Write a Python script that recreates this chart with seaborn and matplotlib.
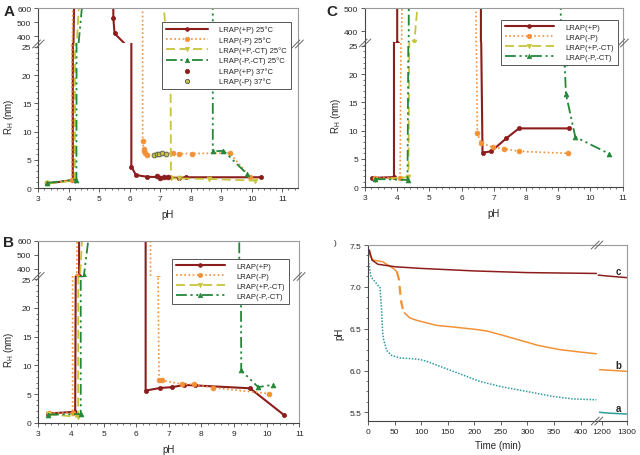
import matplotlib
matplotlib.use("Agg")
import matplotlib.pyplot as plt
import seaborn as sns
from matplotlib.lines import Line2D
from matplotlib.ticker import AutoMinorLocator, FormatStrFormatter

W, H = 640, 456

# ── Data ──────────────────────────────────────────────────────────
# Panel A  (values above the break are drawn off-scale and clipped)
A_plus_ph = [3.3, 4.13, 4.15, 4.2, 5.45, 5.46, 5.5, 6.05, 6.05, 6.2, 6.55, 7.6, 7.85, 10.3]
A_plus_rh = [0.8, 1.4, 300, 1000, 1000, 530, 420, 300, 3.8, 2.3, 2.0, 1.8, 1.9, 1.9]
A_minus_ph = [3.3, 4.1, 4.15, 6.42, 6.42, 6.45, 6.47, 6.5, 6.55, 7.42, 7.6, 8.05, 9.28, 9.93]
A_minus_rh = [0.8, 1.4, 1000, 1000, 8.4, 7.0, 6.6, 6.2, 5.9, 6.2, 6.1, 6.1, 6.2, 2.0]
A_plusct_ph = [3.3, 4.2, 4.25, 4.35, 7.08, 7.33, 7.35, 7.6, 8.6, 10.1]
A_plusct_rh = [0.8, 1.3, 300, 700, 700, 26, 1.7, 1.7, 1.6, 1.3]
A_minusct_ph = [3.3, 4.25, 4.3, 4.47, 8.72, 8.72, 8.72, 9.07, 9.84]
A_minusct_rh = [0.9, 1.5, 300, 700, 700, 300, 6.5, 6.6, 2.5]
A_plus37_ph = [6.88, 7.0, 7.12, 7.25]
A_plus37_rh = [2.1, 1.8, 1.9, 2.0]
A_minus37_ph = [6.78, 6.88, 6.95, 7.05, 7.17]
A_minus37_rh = [5.8, 6.0, 6.1, 6.2, 6.0]

# Panel B
B_plus_ph = [3.3, 4.13, 4.15, 4.25, 4.25, 6.29, 6.29, 6.73, 7.1, 7.47, 7.8, 9.49, 10.54]
B_plus_rh = [1.6, 1.9, 30, 350, 1000, 1000, 5.6, 6.05, 6.2, 6.57, 6.5, 6.0, 1.3]
B_minus_ph = [3.34, 4.05, 4.05, 4.18, 4.2, 6.44, 6.44, 6.67, 6.7, 6.78, 7.41, 7.78, 8.36, 10.08]
B_minus_rh = [1.7, 1.7, 30, 350, 1000, 1000, 300, 26, 7.4, 7.4, 6.7, 6.7, 6.1, 5.06]
B_plusct_ph = [3.3, 4.22, 4.27, 4.35]
B_plusct_rh = [1.5, 1.0, 300, 650]
B_minusct_ph = [3.3, 4.3, 4.3, 4.4, 4.55, 9.16, 9.16, 9.21, 9.22, 9.74, 10.18]
B_minusct_rh = [1.4, 1.5, 26, 355, 640, 1000, 355, 26, 9.1, 6.2, 6.6]

# Panel C
C_plus_ph = [3.21, 3.9, 3.9, 4.0, 4.0, 6.6, 6.6, 6.65, 6.92, 7.39, 7.78, 9.32]
C_plus_rh = [1.65, 1.8, 30, 350, 1000, 1000, 30, 6.1, 6.35, 8.65, 10.4, 10.4]
C_minus_ph = [3.3, 4.09, 4.12, 4.17, 6.45, 6.45, 6.49, 6.59, 6.96, 7.33, 7.78, 9.29]
C_minus_rh = [1.6, 1.7, 30, 1000, 1000, 30, 9.6, 7.9, 7.06, 6.8, 6.35, 6.0]
C_plusct_ph = [3.31, 4.35, 4.38, 4.53, 4.7]
C_plusct_rh = [1.35, 1.8, 30, 352, 620]
C_minusct_ph = [3.3, 4.32, 4.35, 4.37, 9.08, 9.08, 9.2, 9.24, 9.53, 10.59]
C_minusct_rh = [1.47, 1.3, 30, 1000, 1000, 400, 22, 16.5, 8.9, 5.9]

# Panel D  (pH vs time, x axis broken between ~430 and 1180 min)
a_time = [0, 3, 5, 10, 18, 22, 25, 27, 28.4, 34.6, 44, 60, 85, 98, 110, 135, 160, 185, 210,
          248, 298, 348, 385, 430]
a_ph = [7.32, 7.2, 7.12, 7.08, 7.02, 7.0, 6.72, 6.46, 6.38, 6.24, 6.18, 6.15, 6.14, 6.13, 6.11,
        6.05, 5.99, 5.93, 5.87, 5.81, 5.75, 5.69, 5.66, 5.65]
a_time_late = [1190, 1230, 1300]
a_ph_late = [5.50, 5.49, 5.48]
b_time = [0, 9, 27, 37, 47, 54, 58, 59, 62, 65, 68, 78, 91, 128, 160, 204, 225, 265, 320,
          360, 400, 430]
b_ph = [7.40, 7.32, 7.30, 7.26, 7.22, 7.18, 7.08, 7.0, 6.82, 6.74, 6.69, 6.63, 6.60, 6.54,
        6.52, 6.49, 6.47, 6.40, 6.30, 6.25, 6.22, 6.20]
b_time_late = [1190, 1300]
b_ph_late = [6.01, 5.99]
c_time = [0, 2, 7, 18, 50, 100, 200, 300, 430]
c_ph = [7.38, 7.44, 7.32, 7.27, 7.24, 7.22, 7.19, 7.17, 7.16]
c_time_late = [1185, 1220, 1300]
c_ph_late = [7.14, 7.13, 7.11]

# ── Styles ────────────────────────────────────────────────────────
RED, ORANGE, OLIVE, GREEN, TEAL = "#8c1d1d", "#f39137", "#c8c43c", "#23873a", "#2f9c9c"
STYLES = {
    "plus": dict(color=RED, linestyle="-", linewidth=1.5, marker="o", markersize=3),
    "minus": dict(color=ORANGE, linestyle=(0, (1, 1.5)), linewidth=1.2, marker="o", markersize=3.5),
    "plusct": dict(color=OLIVE, linestyle=(0, (5, 2.5)), linewidth=1.3, marker="v", markersize=3.5),
    "minusct": dict(color=GREEN, linestyle=(0, (6, 2, 1.2, 2, 1.2, 2)), linewidth=1.3,
                    marker="^", markersize=3.5),
}

sns.set_style("ticks")
plt.rcParams["font.family"] = ["Liberation Sans", "DejaVu Sans"]
plt.rcParams["axes.linewidth"] = 0.8


def px_rect(left, top, right, bottom):
    return [left / W, 1 - bottom / H, (right - left) / W, (bottom - top) / H]


def style_axes(ax):
    for side in ["left", "bottom"]:
        ax.spines[side].set_color("#444444")
    for side in ["top", "right"]:
        ax.spines[side].set_color("#9a9a9a")
    ax.tick_params(labelsize=6, length=3, width=0.6, color="#444444", pad=2)
    ax.tick_params(which="minor", length=1.5, width=0.5, color="#444444")
    ax.set_facecolor("none")


def break_mark(fig, x, y):
    for dx in (-1.8, 1.8):
        fig.add_artist(Line2D([(x + dx - 4) / W, (x + dx + 4) / W],
                              [1 - (y + 4) / H, 1 - (y - 4) / H],
                              color="#666666", linewidth=0.7))


def plot_series(ax, x, y, key, label=None):
    st = STYLES[key]
    sns.lineplot(x=x, y=y, ax=ax, sort=False, estimator=None, legend=False,
                 markeredgecolor=st["color"], markeredgewidth=0.5, label=label, **st)


def broken_panel(fig, left, top, brk, right, bottom, xlim, top_lim, top_ticks, bot_lim, series):
    ax_t = fig.add_axes(px_rect(left, top, right, brk))
    ax_b = fig.add_axes(px_rect(left, brk, right, bottom))
    for ax in (ax_t, ax_b):
        style_axes(ax)
        for x, y, key, label in series:
            plot_series(ax, x, y, key, label if ax is ax_b else None)
        ax.set_xlim(xlim)
        ax.set_xlabel("")
        ax.set_ylabel("")
    ax_t.set_ylim(top_lim)
    ax_t.set_yticks(top_ticks)
    ax_t.spines["bottom"].set_visible(False)
    ax_t.tick_params(axis="x", which="both", bottom=False, labelbottom=False)
    ax_b.spines["top"].set_visible(False)
    ax_b.set_ylim(bot_lim)
    ax_b.set_yticks([0, 5, 10, 15, 20, 25])
    ax_b.set_xticks(range(3, 12))
    ax_b.xaxis.set_minor_locator(AutoMinorLocator(5))
    ax_b.yaxis.set_minor_locator(AutoMinorLocator(5))
    ax_b.set_xlabel("pH", fontsize=7, labelpad=5)
    ax_b.set_ylabel("R$_\\mathregular{H}$ (nm)", fontsize=7, labelpad=4)
    break_mark(fig, left, brk + 1)
    break_mark(fig, right, brk + 1)
    return ax_t, ax_b


def panel_legend(fig, ax, x, y, handlelength):
    handles, labels = ax.get_legend_handles_labels()
    leg = fig.legend(handles, labels, loc="upper left", bbox_to_anchor=(x / W, 1 - y / H),
                     bbox_transform=fig.transFigure, fontsize=5.5, handlelength=handlelength,
                     handletextpad=1.5, labelspacing=0.35, borderpad=0.5, frameon=True,
                     fancybox=False, edgecolor="#555555", framealpha=1, markerscale=0.9)
    leg.get_frame().set_linewidth(0.7)
    return leg


fig = plt.figure(figsize=(6.4, 4.56), dpi=100)

# ── Panel A ───────────────────────────────────────────────────────
A_series = [
    (A_plus_ph, A_plus_rh, "plus", "LRAP(+P) 25°C"),
    (A_minus_ph, A_minus_rh, "minus", "LRAP(-P) 25°C"),
    (A_plusct_ph, A_plusct_rh, "plusct", "LRAP(+P,-CT) 25°C"),
    (A_minusct_ph, A_minusct_rh, "minusct", "LRAP(-P,-CT) 25°C"),
]
axA_t, axA_b = broken_panel(fig, 38.3, 9.3, 44, 297.6, 189, (3, 11.5), (352, 600),
                            [400, 500, 600], (0, 25.7), A_series)
sns.scatterplot(x=A_plus37_ph, y=A_plus37_rh, ax=axA_b, color=RED, s=12, edgecolor=RED,
                linewidth=0.5, legend=False, label="LRAP(+P) 37°C", zorder=3)
sns.scatterplot(x=A_minus37_ph, y=A_minus37_rh, ax=axA_b, color=OLIVE, s=12, edgecolor="#555555",
                linewidth=0.6, legend=False, label="LRAP(-P) 37°C", zorder=3)
axA_b.set_xlabel("pH", fontsize=7, labelpad=5)
axA_b.set_ylabel("R$_\\mathregular{H}$ (nm)", fontsize=7, labelpad=4)
panel_legend(fig, axA_b, 158, 19, 5.5)
fig.text(9 / W, 1 - 12 / H, "A", fontsize=11, fontweight="bold", ha="center", va="center")

# ── Panel B ───────────────────────────────────────────────────────
B_series = [
    (B_plus_ph, B_plus_rh, "plus", "LRAP(+P)"),
    (B_minus_ph, B_minus_rh, "minus", "LRAP(-P)"),
    (B_plusct_ph, B_plusct_rh, "plusct", "LRAP(+P,-CT)"),
    (B_minusct_ph, B_minusct_rh, "minusct", "LRAP(-P,-CT)"),
]
axB_t, axB_b = broken_panel(fig, 38.3, 242, 276.5, 299.3, 423.7, (3, 11), (353, 600),
                            [400, 500, 600], (0, 25.66), B_series)
panel_legend(fig, axB_b, 168, 256, 6.5)
fig.text(8 / W, 1 - 243 / H, "B", fontsize=11, fontweight="bold", ha="center", va="center")

# ── Panel C ───────────────────────────────────────────────────────
C_series = [
    (C_plus_ph, C_plus_rh, "plus", "LRAP(+P)"),
    (C_minus_ph, C_minus_rh, "minus", "LRAP(-P)"),
    (C_plusct_ph, C_plusct_rh, "plusct", "LRAP(+P,-CT)"),
    (C_minusct_ph, C_minusct_rh, "minusct", "LRAP(-P,-CT)"),
]
axC_t, axC_b = broken_panel(fig, 365, 9.3, 43, 622.6, 188.3, (3, 11), (353, 500),
                            [400, 500], (0, 25.65), C_series)
panel_legend(fig, axC_b, 497, 17, 6.5)
fig.text(332 / W, 1 - 12 / H, "C", fontsize=11, fontweight="bold", ha="center", va="center")

# ── Panel D ───────────────────────────────────────────────────────
axD_l = fig.add_axes(px_rect(368.3, 246, 597, 421.7))
axD_r = fig.add_axes(px_rect(597, 246, 626.7, 421.7))
for ax in (axD_l, axD_r):
    style_axes(ax)

i0 = next(i for i, t in enumerate(b_time) if t >= 54)
i1 = next(i for i, t in enumerate(b_time) if t >= 68)
line_kw = dict(ax=axD_l, sort=False, estimator=None, legend=False, linewidth=1.1)
sns.lineplot(x=a_time, y=a_ph, color=TEAL, linestyle=(0, (1, 1)), **line_kw)
sns.lineplot(x=b_time[:i0 + 1], y=b_ph[:i0 + 1], color=ORANGE, **line_kw)
sns.lineplot(x=b_time[i0:i1 + 1], y=b_ph[i0:i1 + 1], color=ORANGE, linestyle=(0, (4, 2.5)),
             **dict(line_kw, linewidth=1.6))
sns.lineplot(x=b_time[i1:], y=b_ph[i1:], color=ORANGE, **line_kw)
sns.lineplot(x=c_time, y=c_ph, color=RED, **line_kw)

late_kw = dict(ax=axD_r, sort=False, estimator=None, legend=False, linewidth=1.1)
sns.lineplot(x=a_time_late, y=a_ph_late, color=TEAL, **late_kw)
sns.lineplot(x=b_time_late, y=b_ph_late, color=ORANGE, **late_kw)
sns.lineplot(x=c_time_late, y=c_ph_late, color=RED, **late_kw)

for name, series in [("a", a_ph_late), ("b", b_ph_late), ("c", c_ph_late)]:
    axD_r.text(1268, series[-1] + 0.075, name, fontsize=7, fontweight="bold",
               ha="center", va="center")

for ax in (axD_l, axD_r):
    ax.set_ylim(5.4, 7.5)
    ax.set_xlabel("")
    ax.set_ylabel("")
axD_l.set_xlim(0, 431)
axD_l.set_xticks(range(0, 401, 50))
axD_l.set_yticks([5.5, 6.0, 6.5, 7.0, 7.5])
axD_l.yaxis.set_major_formatter(FormatStrFormatter("%.1f"))
axD_l.yaxis.set_minor_locator(AutoMinorLocator(4))
axD_l.spines["right"].set_visible(False)
axD_l.set_ylabel("pH", fontsize=7, labelpad=4)
axD_r.set_xlim(1180, 1300)
axD_r.set_xticks([1200, 1300])
axD_r.spines["left"].set_visible(False)
axD_r.tick_params(axis="y", which="both", left=False, labelleft=False)
fig.text(498 / W, 1 - 446 / H, "Time (min)", fontsize=7, ha="center", va="center")
break_mark(fig, 597, 246)
break_mark(fig, 597, 422)
fig.text(335 / W, 1 - 244 / H, ")", fontsize=6, ha="center", va="center")

fig.savefig("out.png", dpi=100)
